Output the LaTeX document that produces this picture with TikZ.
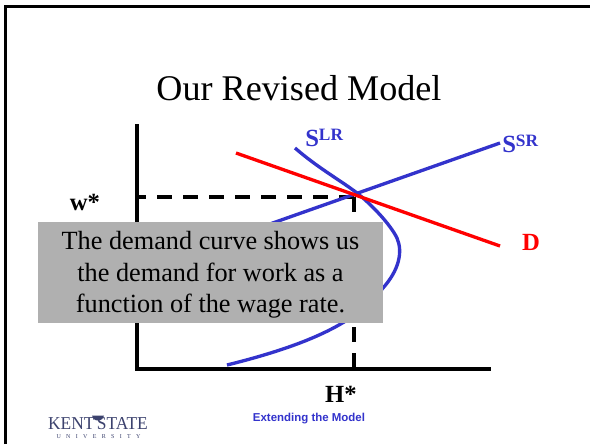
\documentclass[tikz,border=0pt]{standalone}
\usepackage{fontspec}
\setmainfont{Liberation Serif}
\newfontfamily\arialf{Liberation Sans}
\definecolor{sblue}{RGB}{51,51,204}
\definecolor{logoblue}{RGB}{60,66,110}
\tikzset{
 axisline/.style={line width=2.9pt,black},
 guide/.style={line width=2.7pt,black,dash pattern=on 11.25pt off 8.25pt},
 supply/.style={line width=2.5pt,sblue},
 demand/.style={line width=2.5pt,red},
 lab/.style={font=\bfseries\fontsize{18.5}{22}\selectfont,inner sep=0pt},
}
\begin{document}
\begin{tikzpicture}[x=0.75pt,y=-0.75pt]
\useasboundingbox (0,0) rectangle (590,444);
\fill[white] (0,0) rectangle (590,444);
\draw[line width=2.2pt,black] (5.5,444) -- (5.5,6.5) -- (590,6.5);
\node[font=\fontsize{27.1}{31}\selectfont,inner sep=0pt] (title) at (299,88) {Our Revised Model};
\coordinate (xo) at (137,369);
\coordinate (ytop) at (137,124);
\coordinate (xend) at (491,369);
\coordinate (cross) at (354,197);
\coordinate (wl) at (137,197);
\coordinate (hl) at (354,369);
\draw[guide,dash phase=4.5pt] (wl) -- (cross);
\draw[guide] (cross) -- (hl);
\draw[axisline] (ytop) -- (xo) -- (xend);
\coordinate (sra) at (250,231);
\coordinate (srb) at (500,143);
\draw[supply] (sra) -- (srb);
\coordinate (lra) at (295,148);
\coordinate (lrb) at (227,365);
\draw[supply] (lra) .. controls (318,168) and (340,180) .. (357,193) .. controls (372,205) and (390,224) .. (397,238) .. controls (403,252) and (399,270) .. (383,288) .. controls (360,318) and (320,342) .. (lrb);
\coordinate (da) at (236,153);
\coordinate (db) at (500,246);
\draw[demand] (da) -- (db);
\node[fill=black!31,minimum width=345pt*0.75,minimum height=101pt*0.75,inner sep=0pt,align=center,font=\fontsize{19.7}{23.7}\selectfont] (note) at (210.5,272.5) {\rule{0pt}{17.2pt}The demand curve shows us\\the demand for work as a\\function of the wage rate.};
\node[lab] (w) at (85,202) {w*};
\node[lab] (h) at (341,394) {H*};
\node[lab,text=sblue,anchor=west] (slr) at (305,138) {S\raisebox{0.55ex}{\fontsize{13}{13}\selectfont LR}};
\node[lab,text=sblue,anchor=west] (ssr) at (502,144) {S\raisebox{0.55ex}{\fontsize{13}{13}\selectfont SR}};
\node[lab,text=red] (d) at (531,242) {D};
\node[font=\arialf\bfseries\fontsize{8.6}{10}\selectfont,text=sblue,inner sep=0pt] (foot) at (309,419) {Extending the Model};
\node[font=\fontsize{13.6}{14}\selectfont,text=logoblue,inner sep=0pt] (logo) at (98,424) {\scalebox{0.96}[1]{KENT\hspace{-1.5pt} STATE}};
\node[font=\fontsize{4.5}{5}\selectfont,text=logoblue,inner sep=0pt] (univ) at (98.5,437) {U\hspace{4pt}N\hspace{4pt}I\hspace{4pt}V\hspace{4pt}E\hspace{4pt}R\hspace{4pt}S\hspace{4pt}I\hspace{4pt}T\hspace{4pt}Y};
\fill[logoblue] (92,415.5) arc (180:0:6 and 5) -- cycle;
\end{tikzpicture}
\end{document}
